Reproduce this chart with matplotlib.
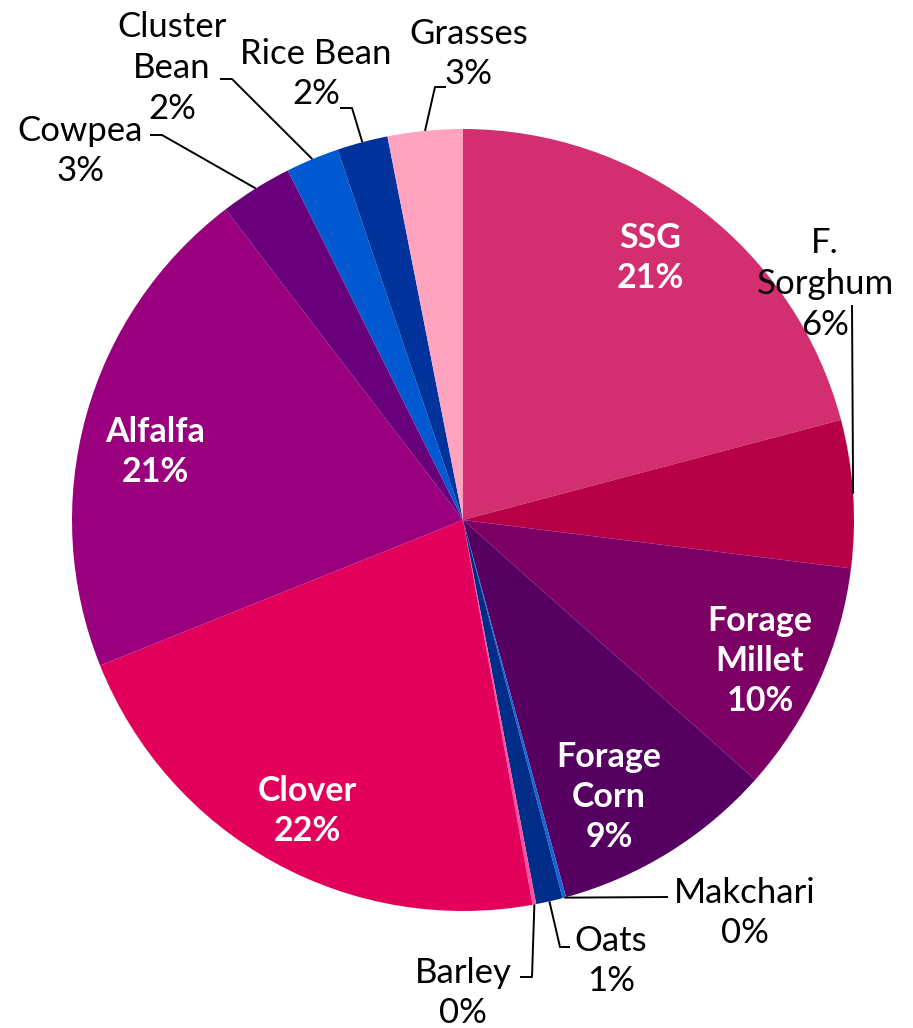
import numpy as np
import matplotlib
matplotlib.use("Agg")
import matplotlib.pyplot as plt

# slices, clockwise from 12 o'clock
crops = ["SSG", "F. Sorghum", "Forage Millet", "Forage Corn", "Makchari", "Oats",
         "Barley", "Clover", "Alfalfa", "Cowpea", "Cluster Bean", "Rice Bean", "Grasses"]
shares = [20.9, 6.1, 9.6, 9.2, 0.15, 1.1, 0.15, 21.8, 20.7, 3.0, 2.2, 2.1, 3.1]
pct_labels = ["21%", "6%", "10%", "9%", "0%", "1%", "0%", "22%", "21%", "3%", "2%", "2%", "3%"]
colors = ["#D22E70", "#B80046", "#7D0065", "#560061", "#1565D8", "#002D87", "#FF4FA3",
          "#E3005A", "#9A007E", "#6A007B", "#0059D1", "#00339C", "#FFA3BE"]

W, H = 913, 1028
CX, CY, R = 463, 520, 391   # pie centre / radius in image pixels


def Y(y):
    return H - y


# label text (line-broken) and centre position in image pixels
label_text = {
    "SSG": "SSG", "F. Sorghum": "F.\nSorghum", "Forage Millet": "Forage\nMillet",
    "Forage Corn": "Forage\nCorn", "Makchari": "Makchari", "Oats": "Oats",
    "Barley": "Barley", "Clover": "Clover", "Alfalfa": "Alfalfa", "Cowpea": "Cowpea",
    "Cluster Bean": "Cluster\nBean", "Rice Bean": "Rice Bean", "Grasses": "Grasses",
}
label_pos = {
    "SSG": (650, 258), "F. Sorghum": (825, 284), "Forage Millet": (760, 661),
    "Forage Corn": (609, 797), "Makchari": (745, 913), "Oats": (611, 961),
    "Barley": (463, 993), "Clover": (307, 811), "Alfalfa": (155, 452),
    "Cowpea": (80, 151), "Cluster Bean": (172, 68), "Rice Bean": (316, 74),
    "Grasses": (469, 54),
}
inside = ["SSG", "Forage Millet", "Forage Corn", "Clover", "Alfalfa"]

# leader line bends (image pixels), line starts at the wedge's mid-angle on the rim
leaders = {
    "F. Sorghum": [(852, 305)],
    "Makchari": [(668, 897)],
    "Oats": [(560, 947), (570, 947)],
    "Barley": [(532, 977), (520, 977)],
    "Cowpea": [(162, 135), (150, 135)],
    "Cluster Bean": [(232, 79), (220, 79)],
    "Rice Bean": [(352, 108), (340, 108)],
    "Grasses": [(435, 87), (446, 87)],
}

plt.rcParams["font.family"] = ["Lato", "DejaVu Sans"]

fig = plt.figure(figsize=(W / 100, H / 100), dpi=100)
ax = fig.add_axes([0, 0, 1, 1])

wedges, _ = ax.pie(shares, colors=colors, startangle=90, counterclock=False,
                   center=(CX, Y(CY)), radius=R, frame=True,
                   wedgeprops=dict(linewidth=0))
ax.set_xlim(0, W)
ax.set_ylim(0, H)
ax.set_aspect("equal")
ax.axis("off")

for name, w, pct in zip(crops, wedges, pct_labels):
    x, y = label_pos[name]
    txt = label_text[name] + "\n" + pct
    if name in inside:
        ax.text(x, Y(y), txt, ha="center", va="center", color="white",
                fontsize=24.5, fontweight="bold", linespacing=1.3)
    else:
        ax.text(x, Y(y), txt, ha="center", va="center", color="black",
                fontsize=25, linespacing=1.33)
    if name in leaders:
        mid = np.deg2rad((w.theta1 + w.theta2) / 2)
        xs = [CX + R * np.cos(mid)] + [p[0] for p in leaders[name]]
        ys = [Y(CY) + R * np.sin(mid)] + [Y(p[1]) for p in leaders[name]]
        ax.plot(xs, ys, color="black", linewidth=1.4, solid_capstyle="butt")

fig.savefig("out.png", dpi=100, facecolor="white")
